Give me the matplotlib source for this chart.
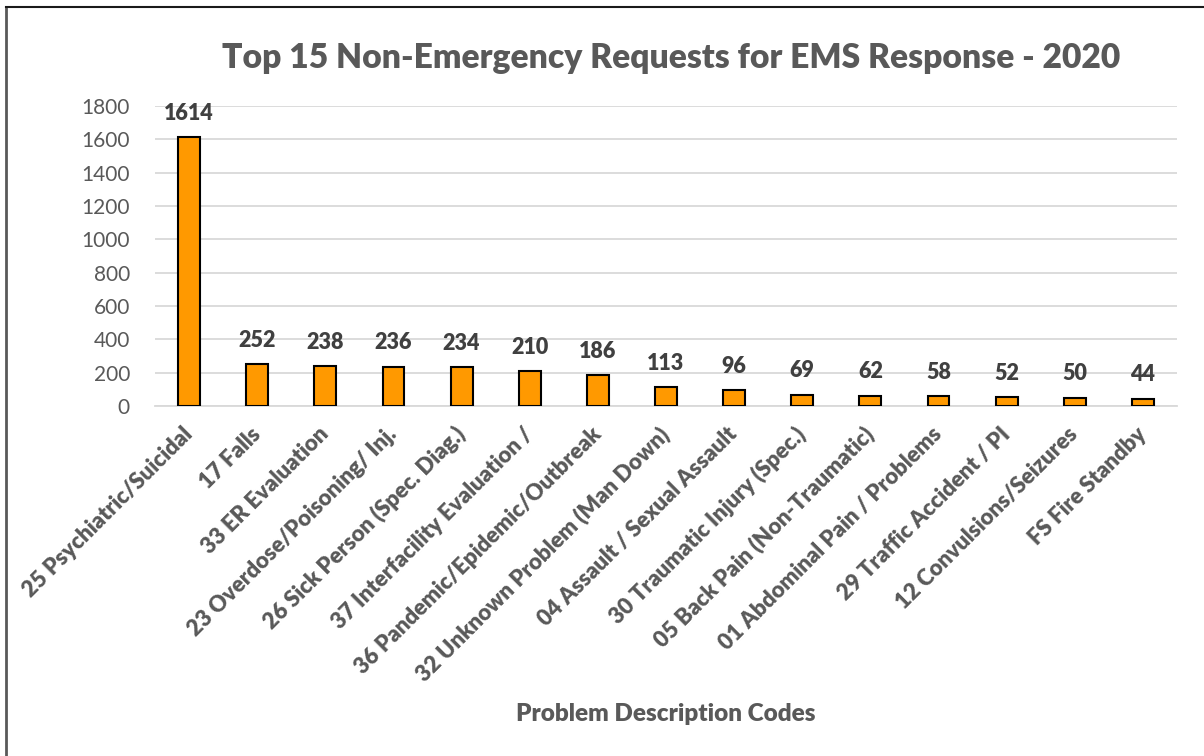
import matplotlib
matplotlib.use("Agg")
import matplotlib.pyplot as plt
from matplotlib.lines import Line2D

plt.rcParams['font.family'] = ['Lato', 'DejaVu Sans']

categories = [
    "25 Psychiatric/Suicidal",
    "17 Falls",
    "33 ER Evaluation",
    "23 Overdose/Poisoning/ Inj.",
    "26 Sick Person (Spec. Diag.)",
    "37 Interfacility Evaluation /",
    "36 Pandemic/Epidemic/Outbreak",
    "32 Unknown Problem (Man Down)",
    "04 Assault / Sexual Assault",
    "30 Traumatic Injury (Spec.)",
    "05 Back Pain (Non-Traumatic)",
    "01 Abdominal Pain / Problems",
    "29 Traffic Accident / PI",
    "12 Convulsions/Seizures",
    "FS Fire Standby",
]
counts = [1614, 252, 238, 236, 234, 210, 186, 113, 96, 69, 62, 58, 52, 50, 44]
y_ticks = [0, 200, 400, 600, 800, 1000, 1200, 1400, 1600, 1800]

title = "Top 15 Non-Emergency Requests for EMS Response - 2020"
x_label = "Problem Description Codes"

W, H = 1204, 756
fig = plt.figure(figsize=(W / 100, H / 100), dpi=100)
fig.patch.set_facecolor("white")

ax = fig.add_axes([155 / W, 1 - 406 / H, (1177 - 155) / W, (406 - 106) / H])

x = list(range(len(categories)))
ax.bar(x, counts, width=0.32, color="#FF9900", edgecolor="black", linewidth=1.5, zorder=3)

for xi, v in zip(x, counts):
    ax.annotate(str(v), (xi, v), xytext=(0, 9.5), textcoords="offset points",
                ha="center", va="bottom", fontsize=15.5, fontweight="heavy", color="#404040")

ax.set_xlim(-0.5, len(categories) - 0.5)
ax.set_ylim(0, 1800)
ax.set_yticks(y_ticks)
ax.set_yticklabels([str(t) for t in y_ticks], fontsize=15, color="#595959")
ax.tick_params(axis="y", length=0, pad=18)
ax.yaxis.grid(True, color="#D9D9D9", linewidth=1.3, zorder=0)
ax.set_axisbelow(True)

ax.set_xticks(x)
ax.set_xticklabels(categories, rotation=45, ha="right", va="center", rotation_mode="anchor",
                   fontsize=16, fontweight="heavy", color="#595959")
ax.tick_params(axis="x", length=0, pad=18)

for s in ["top", "right", "left"]:
    ax.spines[s].set_visible(False)
ax.spines["bottom"].set_color("#D9D9D9")
ax.spines["bottom"].set_linewidth(1.3)

fig.text(671 / W, 1 - 58 / H, title, ha="center", va="center",
         fontsize=24.2, fontweight="heavy", color="#595959")
fig.text(666 / W, 1 - 714 / H, x_label, ha="center", va="center",
         fontsize=17.5, fontweight="heavy", color="#595959")

# chart frame edges
fig.add_artist(Line2D([6 / W, 6 / W], [0, 1 - 7 / H], transform=fig.transFigure,
                      color="#595959", linewidth=2))
fig.add_artist(Line2D([6 / W, 1], [1 - 7 / H, 1 - 7 / H], transform=fig.transFigure,
                      color="#1a1a1a", linewidth=1.5))

fig.savefig("out.png", dpi=100, facecolor="white")
